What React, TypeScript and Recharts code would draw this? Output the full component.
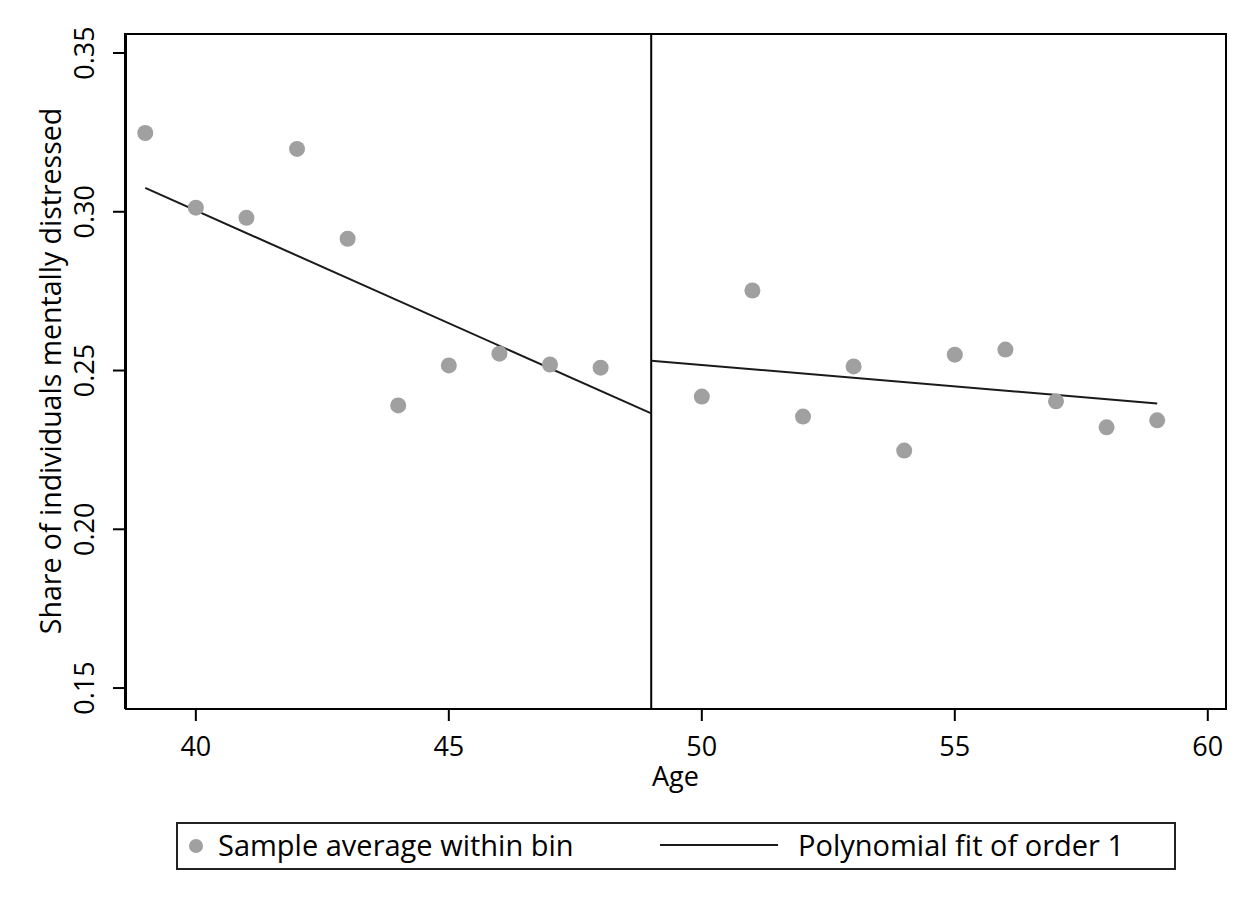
import { ComposedChart, Scatter, Line, XAxis, YAxis, ReferenceLine, Label } from "recharts";

const ages = [39, 40, 41, 42, 43, 44, 45, 46, 47, 48, 50, 51, 52, 53, 54, 55, 56, 57, 58, 59];
const shares = [
  0.3248, 0.3013, 0.2981, 0.3198, 0.2915, 0.239, 0.2516, 0.2553, 0.2519, 0.2509,
  0.2418, 0.2752, 0.2355, 0.2513, 0.2248, 0.255, 0.2566, 0.2403, 0.2321, 0.2343,
];
const fitLeft = [
  { x: 39, y: 0.3075 },
  { x: 49, y: 0.2365 },
];
const fitRight = [
  { x: 49, y: 0.2531 },
  { x: 59, y: 0.2396 },
];
const xTicks = [40, 45, 50, 55, 60];
const yTicks = [0.15, 0.2, 0.25, 0.3, 0.35];
const cutoff = 49;

const points = ages.map((a, i) => ({ x: a, y: shares[i] }));

const FONT = "'Open Sans', Lato, sans-serif";

const YTick = (props: any) => {
  const { x, y, payload } = props;
  const cx = x - 27;
  return (
    <text
      x={cx}
      y={y}
      transform={`rotate(-90, ${cx}, ${y})`}
      textAnchor="middle"
      dominantBaseline="central"
      fontSize={27}
      fontFamily={FONT}
      fill="#000"
    >
      {Number(payload.value).toFixed(2)}
    </text>
  );
};

const XTick = (props: any) => {
  const { x, y, payload } = props;
  return (
    <text x={x} y={y + 33} textAnchor="middle" fontSize={27} fontFamily={FONT} fill="#000">
      {payload.value}
    </text>
  );
};

const Dot = (props: any) => <circle cx={props.cx} cy={props.cy} r={8} fill="#a0a0a0" />;

export default function App() {
  return (
    <div style={{ position: "absolute", left: 0, top: 0, width: 1260, height: 916, background: "#fff" }}>
      <ComposedChart
        width={1260}
        height={916}
        margin={{ top: 33, right: 34, left: 0, bottom: 0 }}
      >
        <XAxis
          dataKey="x"
          type="number"
          domain={[38.6, 60.36]}
          ticks={xTicks}
          allowDataOverflow
          height={207}
          tickSize={12}
          stroke="#000"
          strokeWidth={2}
          tick={<XTick />}
        >
          <Label
            content={(p: any) => (
              <text
                x={p.viewBox.x + p.viewBox.width / 2}
                y={p.viewBox.y + 77}
                textAnchor="middle"
                fontSize={27}
                fontFamily={FONT}
                fill="#000"
              >
                Age
              </text>
            )}
          />
        </XAxis>
        <YAxis
          type="number"
          domain={[0.1434, 0.3563]}
          ticks={yTicks}
          allowDataOverflow
          width={125}
          tickSize={12}
          stroke="#000"
          strokeWidth={2}
          tick={<YTick />}
        >
          <Label
            content={(p: any) => {
              const cx = 50;
              const cy = p.viewBox.y + p.viewBox.height / 2;
              return (
                <text
                  x={cx}
                  y={cy}
                  transform={`rotate(-90, ${cx}, ${cy})`}
                  textAnchor="middle"
                  dominantBaseline="central"
                  fontSize={28.5}
                  fontFamily={FONT}
                  fill="#000"
                >
                  Share of individuals mentally distressed
                </text>
              );
            }}
          />
        </YAxis>
        <ReferenceLine x={cutoff} stroke="#000" strokeWidth={2} />
        <Scatter data={points} dataKey="y" shape={<Dot />} isAnimationActive={false} />
        <Line data={fitLeft} dataKey="y" type="linear" stroke="#1a1a1a" strokeWidth={2} dot={false} isAnimationActive={false} />
        <Line data={fitRight} dataKey="y" type="linear" stroke="#1a1a1a" strokeWidth={2} dot={false} isAnimationActive={false} />
      </ComposedChart>
      <div
        style={{
          position: "absolute",
          left: 125,
          top: 33,
          width: 1102,
          height: 677,
          border: "2px solid #000",
          boxSizing: "border-box",
          pointerEvents: "none",
        }}
      />
      <div
        style={{
          position: "absolute",
          left: 176,
          top: 822,
          width: 1000,
          height: 48,
          border: "2px solid #222",
          boxSizing: "border-box",
          fontFamily: FONT,
          fontSize: 29,
          color: "#000",
        }}
      >
        <span style={{ position: "absolute", left: 11, top: 15, width: 14, height: 14, borderRadius: 7, background: "#a0a0a0" }} />
        <span style={{ position: "absolute", left: 40, top: 3, lineHeight: "36px" }}>Sample average within bin</span>
        <span style={{ position: "absolute", left: 482, top: 20, width: 118, height: 2, background: "#1a1a1a" }} />
        <span style={{ position: "absolute", left: 620, top: 3, lineHeight: "36px" }}>Polynomial fit of order 1</span>
      </div>
    </div>
  );
}
